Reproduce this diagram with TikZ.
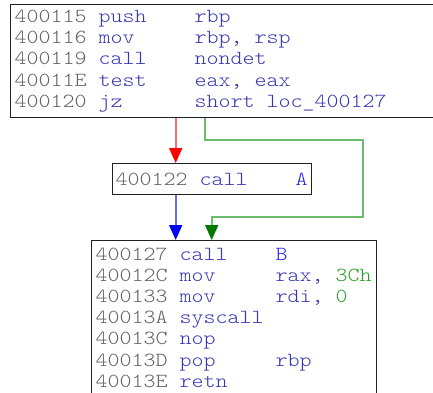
\documentclass[tikz,border=0pt]{standalone}
\usepackage{fontspec}
\newfontfamily\asmfont[FakeStretch=1.143]{Latin Modern Mono Light}
\usetikzlibrary{arrows.meta,calc}
\definecolor{addrc}{HTML}{626262}
\definecolor{mnc}{HTML}{3636B4}
\definecolor{namec}{HTML}{2424E6}
\definecolor{numc}{HTML}{2A9E2A}
\definecolor{redline}{HTML}{FF6E6E}
\definecolor{redhead}{HTML}{FF0000}
\definecolor{blueline}{HTML}{6A6AFF}
\definecolor{bluehead}{HTML}{0000FF}
\definecolor{greenline}{HTML}{6CBA6C}
\definecolor{greenhead}{HTML}{007800}
\definecolor{borderc}{HTML}{202020}
\newcommand{\ad}[1]{\makebox[84pt][l]{\color{addrc}#1}}
\newcommand{\mn}[1]{\makebox[96pt][l]{\color{mnc}#1}}
\newcommand{\op}[1]{{\color{mnc}#1}}
\begin{document}
\begin{tikzpicture}[x=1pt,y=-1pt,
  blk/.style={draw=borderc,line width=1.4pt,fill=white,inner sep=0pt,anchor=north west},
  asmline/.style={anchor=base west,inner sep=0pt,font=\asmfont\fontsize{20}{21}\selectfont},
  edge/.style={line width=1.8pt},
]
\fill[white] (0,0) rectangle (433,392);
\useasboundingbox (0,0) rectangle (433,392);
% boxes
\node[blk,minimum width=432pt,minimum height=112.5pt] (top) at (10,4) {};
\node[blk,minimum width=199pt,minimum height=31pt] (mid) at (112,163) {};
\node[blk,minimum width=285pt,minimum height=170pt] (bot) at (91,240) {};
% top block text
\node[asmline] (t1) at (14.5,22) {\ad{400115}\mn{push}\op{rbp}};
\node[asmline] (t2) at (14.5,43.4) {\ad{400116}\mn{mov}\op{rbp, rsp}};
\node[asmline] (t3) at (14.5,64.8) {\ad{400119}\mn{call}\op{nondet}};
\node[asmline] (t4) at (14.5,86.2) {\ad{40011E}\mn{test}\op{eax, eax}};
\node[asmline] (t5) at (14.5,107.6) {\ad{400120}\mn{jz}\op{short loc\_400127}};
% middle block text
\node[asmline] (m1) at (115.5,185) {\ad{400122}\mn{call}{\color{namec}A}};
% bottom block text
\node[asmline] (b1) at (95.5,260.5) {\ad{400127}\mn{call}{\color{namec}B}};
\node[asmline] (b2) at (95.5,281.6) {\ad{40012C}\mn{mov}\op{rax, }{\color{numc}3Ch}};
\node[asmline] (b3) at (95.5,302.7) {\ad{400133}\mn{mov}\op{rdi, }{\color{numc}0}};
\node[asmline] (b4) at (95.5,323.8) {\ad{40013A}\op{syscall}};
\node[asmline] (b5) at (95.5,344.9) {\ad{40013C}\op{nop}};
\node[asmline] (b6) at (95.5,366) {\ad{40013D}\mn{pop}\op{rbp}};
\node[asmline] (b7) at (95.5,387.1) {\ad{40013E}\op{retn}};
% connectors
\coordinate (r0) at ($(top.south west)+(165.7,0)$);
\coordinate (g0) at ($(top.south west)+(195,0)$);
\coordinate (g2) at (363,140);
\coordinate (g4) at (211.7,217);
\draw[edge,redline,-{Triangle[width=13pt,length=15pt,color=redhead]}] (r0) -- (r0 |- mid.north);
\draw[edge,blueline,-{Triangle[width=13pt,length=15pt,color=bluehead]}] (r0 |- mid.south) -- (r0 |- bot.north);
\draw[edge,greenline,-{Triangle[width=13pt,length=15pt,color=greenhead]}] (g0) |- (g2) |- (g4) -- (g4 |- bot.north);
\end{tikzpicture}
\end{document}
